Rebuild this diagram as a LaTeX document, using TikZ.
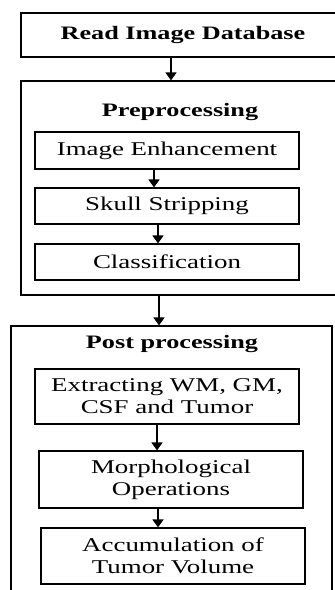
\documentclass[tikz,border=0pt]{standalone}
\usepackage{fontspec}
\setmainfont{Liberation Serif}[FakeStretch=1.38]
\usepackage{tikz}
\usetikzlibrary{arrows.meta,positioning}

\begin{document}
\begin{tikzpicture}[
  x=1pt, y=-1pt,
  font=\fontsize{19.5}{22}\selectfont,
  box/.style={draw, rectangle, minimum width=264pt, align=center, inner sep=2pt, line width=1.2pt},
  group/.style={draw, rectangle, line width=1.2pt},
  title/.style={font=\fontsize{19}{22}\selectfont\bfseries},
  >={Triangle[length=8pt, width=11pt]},
  arrline/.style={->, line width=1.8pt},
]
\useasboundingbox (0,0) rectangle (335,590);
\clip (0,0) rectangle (335,590);

% ============ Input ============
\node[group, title, minimum width=324pt, minimum height=44pt] (readdb) at (183,35) {Read Image Database};

% ============ Preprocessing stage ============
\node[group, minimum width=324pt, minimum height=214pt] (prebox) at (183,188) {};
\node[title] (pretitle) at (180,112) {Preprocessing};

\node[box, minimum height=37pt] (enhance) at (167,150.5) {Image Enhancement};
\node[box, minimum height=36pt] (skull) at (167,206) {Skull Stripping};
\node[box, minimum height=36pt] (classify) at (167,262) {Classification};

% ============ Post processing stage ============
\node[group, minimum width=321pt, minimum height=274pt] (postbox) at (171.5,463) {};
\node[title] (posttitle) at (172,344) {Post processing};

\node[box, minimum height=55pt] (extract) at (167,396.5) {Extracting WM, GM,\\CSF and Tumor};
\node[box, minimum height=57pt] (morph) at (171,479.5) {Morphological\\Operations};
\node[box, minimum height=56pt] (accum) at (173,556) {Accumulation of\\Tumor Volume};

% ===================== ARROWS =====================
\draw[arrline] ([xshift=-12pt]readdb.south) -- ([xshift=-12pt]prebox.north);
\draw[arrline] ([xshift=-13pt]enhance.south) -- ([xshift=-13pt]skull.north);
\draw[arrline] ([xshift=-9pt]skull.south) -- ([xshift=-9pt]classify.north);
\draw[arrline] ([xshift=-24pt]prebox.south) -- ([xshift=-12.5pt]postbox.north);
\draw[arrline] ([xshift=-10pt]extract.south) -- ([xshift=-14pt]morph.north);
\draw[arrline] ([xshift=-13pt]morph.south) -- ([xshift=-15pt]accum.north);

\end{tikzpicture}
\end{document}
